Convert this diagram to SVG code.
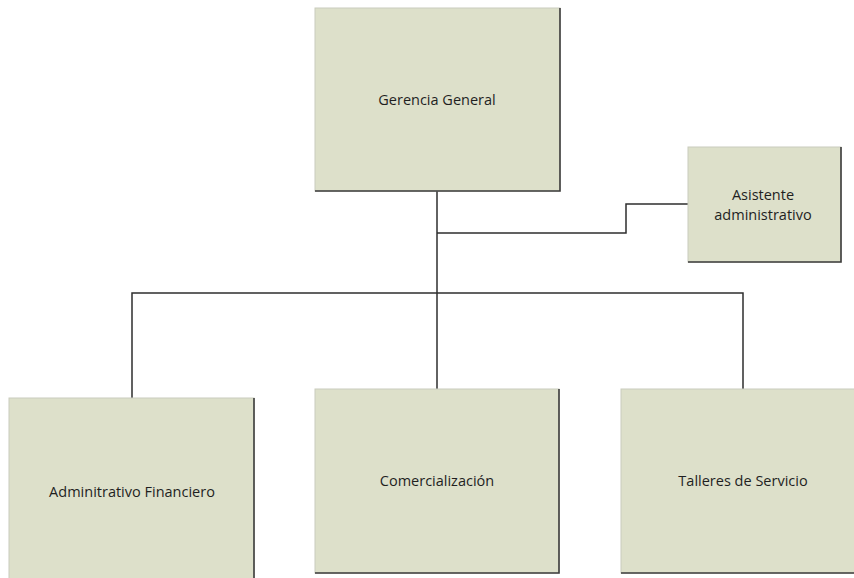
<svg xmlns="http://www.w3.org/2000/svg" width="854" height="578" viewBox="0 0 854 578">
  <style>
    .box { fill: #dde0ca; stroke: #c9cbbd; stroke-width: 1; }
    .edge { fill: none; stroke: #3c3c3c; stroke-width: 1.6; }
    .link { fill: none; stroke: #2e2e2e; stroke-width: 1.5; }
    .label { font-family: "Open Sans", "Liberation Sans", sans-serif; font-size: 14.5px; fill: #1f1f1f; text-anchor: middle; }
  </style>
  <rect width="854" height="578" fill="#ffffff"/>

  <g id="connectors">
    <path class="link" d="M437 191 V389"/>
    <path class="link" d="M437 233 H626 V204 H688"/>
    <path class="link" d="M132 398 V293 H743 V389"/>
  </g>

  <g id="gerencia-general">
    <rect class="box" x="315" y="8" width="245" height="183"/>
    <path class="edge" d="M560 8 V191 H315"/>
    <text class="label" x="437" y="105">Gerencia General</text>
  </g>

  <g id="asistente-administrativo">
    <rect class="box" x="688" y="147" width="153" height="115"/>
    <path class="edge" d="M841 147 V262 H688"/>
    <text class="label" x="763" y="200">Asistente</text>
    <text class="label" x="763" y="220">administrativo</text>
  </g>

  <g id="administrativo-financiero">
    <rect class="box" x="9" y="398" width="245" height="190"/>
    <path class="edge" d="M254 398 V578"/>
    <text class="label" x="132" y="497">Adminitrativo Financiero</text>
  </g>

  <g id="comercializacion">
    <rect class="box" x="315" y="389" width="244" height="184"/>
    <path class="edge" d="M559 389 V573 H315"/>
    <text class="label" x="437" y="486">Comercialización</text>
  </g>

  <g id="talleres-de-servicio">
    <rect class="box" x="621" y="389" width="240" height="184"/>
    <path class="edge" d="M621 573 H854"/>
    <text class="label" x="743" y="486">Talleres de Servicio</text>
  </g>
</svg>
